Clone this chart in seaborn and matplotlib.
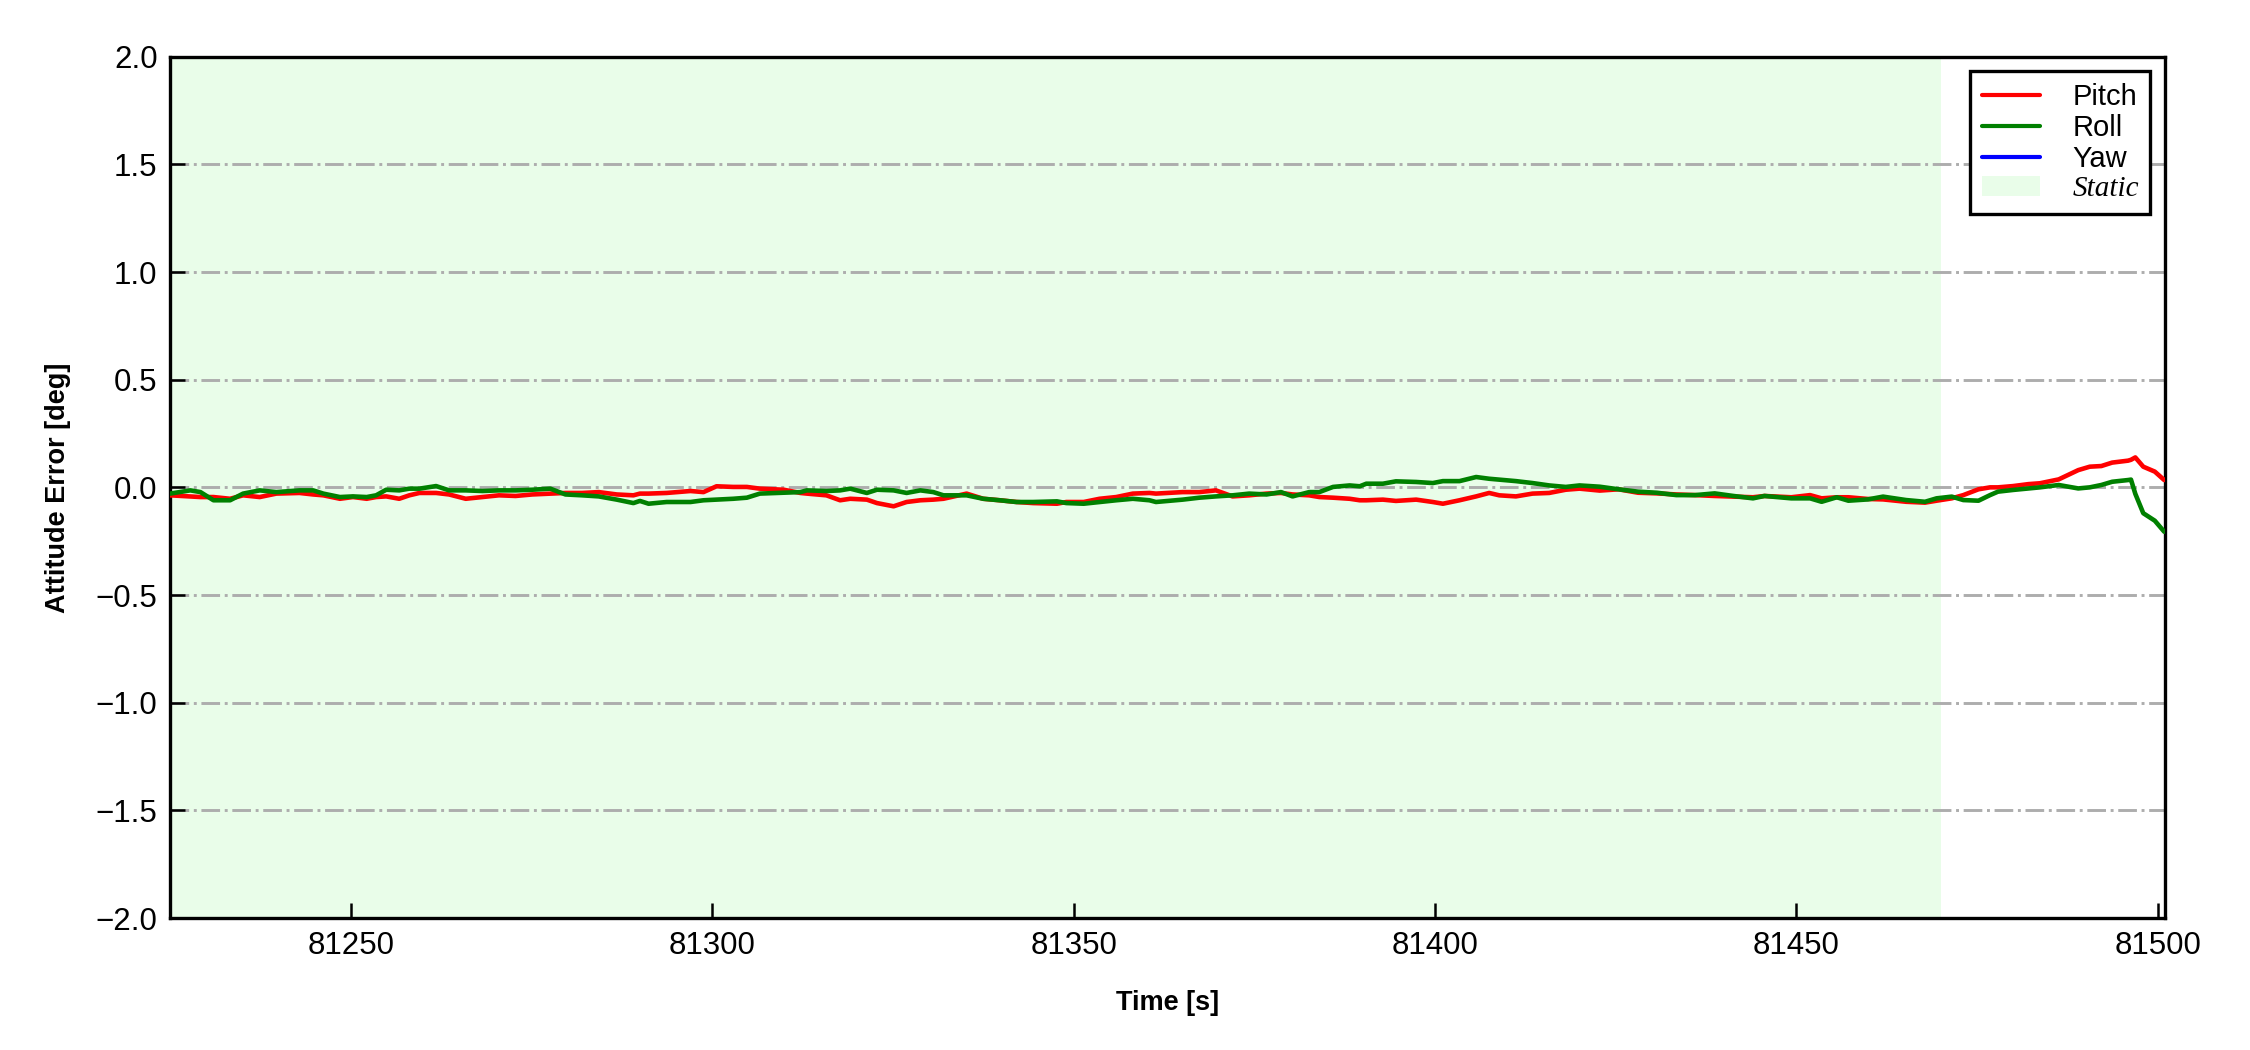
import numpy as np
import pandas as pd
import matplotlib
matplotlib.use("Agg")
import matplotlib.pyplot as plt
from matplotlib.patches import Patch
from matplotlib.lines import Line2D
import seaborn as sns

# Tempo (s) e erros de atitude (deg)
time_s = [
    81225.0, 81227.8, 81229.2, 81231.0, 81233.3, 81235.1, 81237.4, 81239.7, 81242.9, 81244.8,
    81246.2, 81248.5, 81250.3, 81252.2, 81253.5, 81254.9, 81256.7, 81258.1, 81259.5, 81261.8,
    81263.6, 81265.9, 81268.2, 81270.5, 81272.8, 81275.1, 81277.6, 81279.7, 81282.0, 81284.3,
    81286.8, 81289.1, 81290.0, 81291.2, 81293.7, 81297.0, 81298.8, 81300.6, 81302.9, 81304.8,
    81306.6, 81309.9, 81312.2, 81313.1, 81315.8, 81317.7, 81319.1, 81321.4, 81322.8, 81325.1,
    81326.9, 81328.8, 81330.6, 81332.0, 81335.2, 81337.5, 81339.8, 81342.1, 81344.4, 81347.7,
    81349.0, 81351.4, 81353.6, 81355.9, 81358.2, 81360.5, 81361.4, 81365.1, 81367.4, 81369.7,
    81372.0, 81374.3, 81376.7, 81378.7, 81380.3, 81382.6, 81384.0, 81385.9, 81388.2, 81389.6,
    81390.5, 81392.8, 81394.6, 81397.4, 81399.7, 81401.1, 81403.4, 81405.7, 81407.5, 81408.9,
    81411.2, 81413.5, 81415.8, 81418.1, 81420.0, 81422.8, 81425.4, 81428.1, 81430.7, 81433.4,
    81436.0, 81438.7, 81441.3, 81444.0, 81445.6, 81449.3, 81451.9, 81453.5, 81455.6, 81457.2,
    81459.9, 81462.0, 81465.2, 81467.8, 81469.4, 81471.5, 81473.1, 81475.2, 81476.8, 81477.9,
    81480.0, 81482.1, 81483.7, 81486.3, 81489.0, 81490.6, 81492.2, 81493.7, 81495.9, 81496.3,
    81496.9, 81498.0, 81499.6, 81500.9,
]

pitch_err = [
    -0.037, -0.042, -0.045, -0.045, -0.053, -0.037, -0.045, -0.029, -0.026, -0.033,
    -0.037, -0.053, -0.045, -0.053, -0.045, -0.042, -0.053, -0.037, -0.026, -0.026,
    -0.033, -0.053, -0.045, -0.037, -0.040, -0.033, -0.029, -0.026, -0.026, -0.022,
    -0.033, -0.037, -0.029, -0.029, -0.026, -0.017, -0.022, 0.005, 0.002, 0.002,
    -0.006, -0.011, -0.026, -0.029, -0.037, -0.060, -0.053, -0.057, -0.073, -0.088,
    -0.068, -0.060, -0.057, -0.053, -0.029, -0.053, -0.060, -0.068, -0.073, -0.076,
    -0.068, -0.068, -0.053, -0.045, -0.029, -0.026, -0.029, -0.022, -0.022, -0.014,
    -0.042, -0.037, -0.029, -0.026, -0.033, -0.037, -0.045, -0.048, -0.053, -0.060,
    -0.060, -0.057, -0.063, -0.057, -0.068, -0.076, -0.060, -0.042, -0.026, -0.037,
    -0.042, -0.029, -0.026, -0.011, -0.006, -0.015, -0.009, -0.025, -0.028, -0.033,
    -0.036, -0.040, -0.043, -0.046, -0.040, -0.046, -0.036, -0.051, -0.046, -0.046,
    -0.054, -0.056, -0.067, -0.071, -0.062, -0.051, -0.036, -0.009, 0.000, 0.000,
    0.006, 0.015, 0.019, 0.037, 0.080, 0.096, 0.099, 0.115, 0.124, 0.128,
    0.139, 0.096, 0.073, 0.034,
]

roll_err = [
    -0.029, -0.014, -0.022, -0.060, -0.060, -0.029, -0.014, -0.022, -0.014, -0.014,
    -0.029, -0.045, -0.042, -0.045, -0.037, -0.011, -0.014, -0.006, -0.006, 0.006,
    -0.014, -0.014, -0.017, -0.014, -0.014, -0.011, -0.006, -0.033, -0.037, -0.042,
    -0.057, -0.073, -0.063, -0.076, -0.068, -0.068, -0.060, -0.057, -0.053, -0.048,
    -0.029, -0.025, -0.022, -0.014, -0.017, -0.014, -0.006, -0.026, -0.011, -0.014,
    -0.026, -0.014, -0.022, -0.037, -0.037, -0.053, -0.060, -0.068, -0.068, -0.065,
    -0.073, -0.076, -0.068, -0.060, -0.053, -0.060, -0.068, -0.057, -0.048, -0.042,
    -0.037, -0.029, -0.033, -0.022, -0.042, -0.022, -0.022, 0.002, 0.009, 0.005,
    0.017, 0.017, 0.028, 0.025, 0.020, 0.029, 0.029, 0.048, 0.040, 0.036,
    0.029, 0.020, 0.009, 0.002, 0.009, 0.003, -0.009, -0.020, -0.025, -0.036,
    -0.036, -0.028, -0.040, -0.051, -0.040, -0.051, -0.051, -0.067, -0.046, -0.062,
    -0.056, -0.043, -0.059, -0.067, -0.051, -0.043, -0.059, -0.062, -0.036, -0.020,
    -0.012, -0.005, 0.000, 0.011, -0.005, 0.000, 0.011, 0.026, 0.034, 0.036,
    -0.030, -0.120, -0.155, -0.206,
]

static_start = 81225.0
static_end = 81470.0

x_ticks = [81250, 81300, 81350, 81400, 81450, 81500]
y_ticks = [-2.0, -1.5, -1.0, -0.5, 0.0, 0.5, 1.0, 1.5, 2.0]

# Formato longo para o seaborn
df = pd.DataFrame({
    "time": time_s * 2,
    "error": pitch_err + roll_err,
    "axis": ["Pitch"] * len(time_s) + ["Roll"] * len(time_s),
})

sns.set_style("ticks")
plt.rcParams["font.family"] = ["Liberation Sans", "DejaVu Sans"]
plt.rcParams["text.color"] = "black"
plt.rcParams["axes.labelcolor"] = "black"

fig = plt.figure(figsize=(7.5, 3.5), dpi=300)
ax = fig.add_axes([0.0756, 0.1257, 0.8866, 0.8203])

# Região estática
ax.axvspan(static_start, static_end, color="#e9fde9", lw=0, zorder=0)

ax.yaxis.grid(True, linestyle="-.", color="#adadad", lw=0.7, zorder=1)
ax.xaxis.grid(False)

sns.lineplot(data=df, x="time", y="error", hue="axis",
             palette={"Pitch": "red", "Roll": "green"},
             lw=1.1, ax=ax, legend=False, zorder=3)

ax.set_xlim(81225, 81501)
ax.set_ylim(-2, 2)
ax.set_xticks(x_ticks)
ax.set_yticks(y_ticks)
ax.set_yticklabels([f"{v:.1f}".replace("-", "\u2212") for v in y_ticks])
ax.tick_params(direction="in", length=3.5, width=0.6, labelsize=7.5, pad=3,
               colors="black")
for s in ax.spines.values():
    s.set_color("black")
    s.set_linewidth(0.8)

ax.set_xlabel("Time [s]", fontsize=6.5, fontweight="bold", labelpad=7)
ax.set_ylabel("Attitude Error [deg]", fontsize=6.5, fontweight="bold", labelpad=6)

handles = [
    Line2D([], [], color="red", lw=1.0),
    Line2D([], [], color="green", lw=1.0),
    Line2D([], [], color="blue", lw=1.0),
    Patch(facecolor="#e9fde9", edgecolor="none"),
]
labels = ["Pitch", "Roll", "Yaw", "Static"]
leg = ax.legend(handles, labels, loc="upper right", fontsize=7,
                frameon=True, fancybox=False, framealpha=1,
                edgecolor="black", handlelength=2.0, labelspacing=0.1,
                borderpad=0.4, handletextpad=1.1, borderaxespad=0.5)
leg.get_frame().set_linewidth(0.8)
leg.get_texts()[3].set_family(["Liberation Serif", "DejaVu Serif"])
leg.get_texts()[3].set_style("italic")

fig.savefig("out.png", dpi=300)
